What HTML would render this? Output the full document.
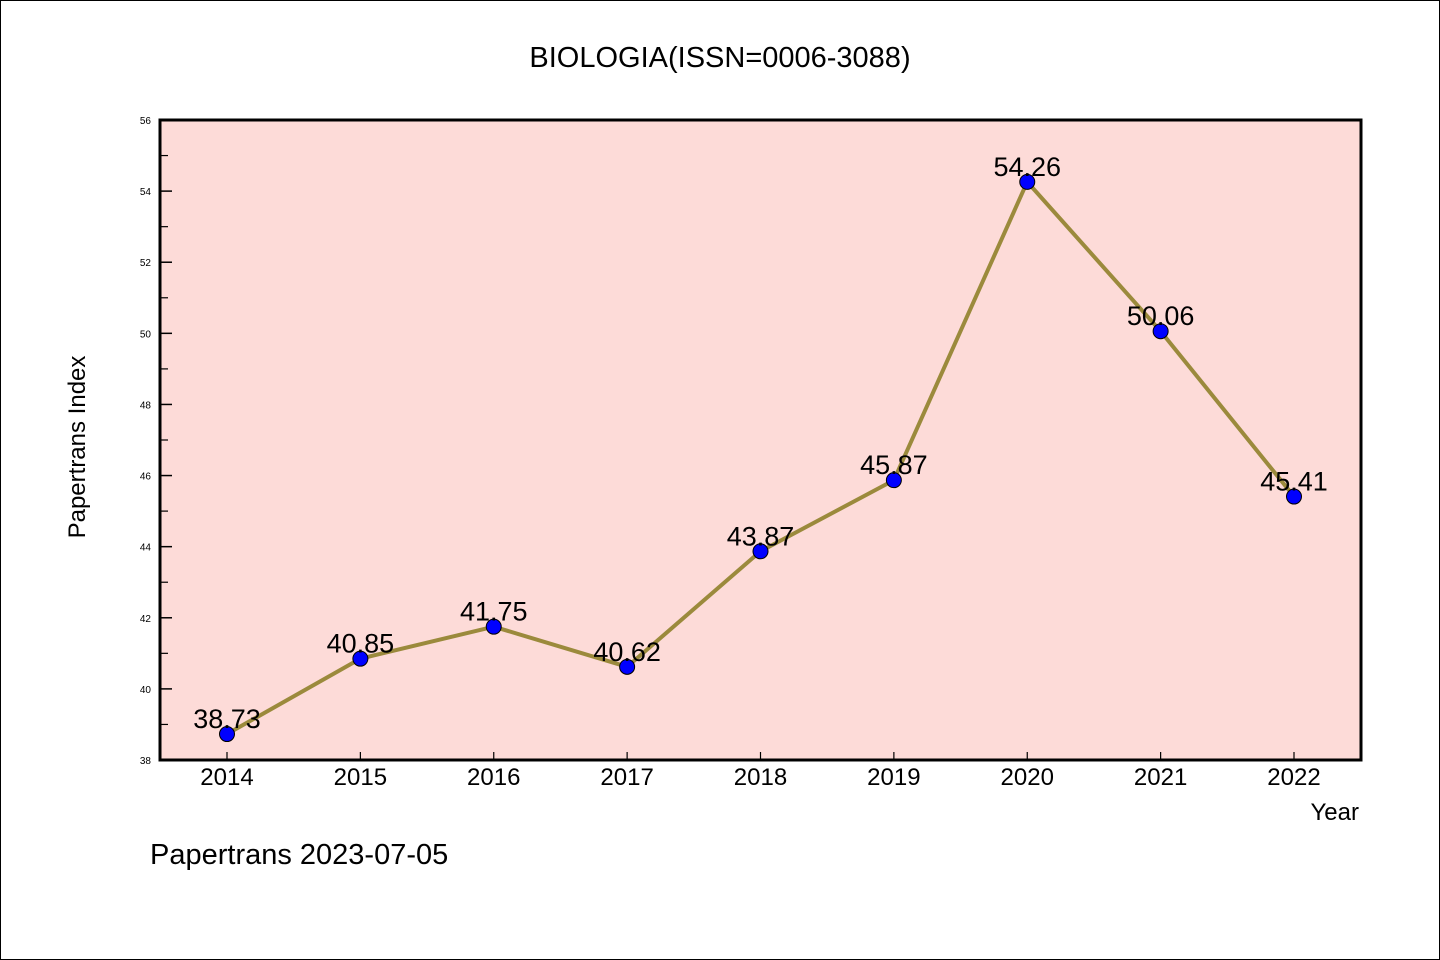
<!DOCTYPE html>
<html><head><meta charset="utf-8"><style>
body{margin:0;background:#fff}
svg{display:block;font-family:"WenQuanYi Zen Hei","Liberation Sans",sans-serif}
</style></head><body>
<svg width="1440" height="960">
<rect x="0.5" y="0.5" width="1439" height="959" fill="#fff" stroke="#000"/>
<text x="720" y="67" font-size="29" text-anchor="middle">BIOLOGIA(ISSN=0006-3088)</text>
<rect x="160" y="120" width="1201" height="640" fill="#fddbd8"/>
<g id="axes"></g>
<g id="marks"></g>
<rect x="160" y="120" width="1201" height="640" fill="none" stroke="#000" stroke-width="3"/>
<text x="85" y="447" font-size="24" text-anchor="middle" transform="rotate(-90 85 447)">Papertrans Index</text>
<text x="1359" y="820" font-size="24" text-anchor="end">Year</text>
<text x="150" y="864" font-size="29">Papertrans 2023-07-05</text>
</svg>
<script>
const years=["2014","2015","2016","2017","2018","2019","2020","2021","2022"];
const values=[38.73,40.85,41.75,40.62,43.87,45.87,54.26,50.06,45.41];
const valueLabels=["38.73","40.85","41.75","40.62","43.87","45.87","54.26","50.06","45.41"];
const yTicks=[38,40,42,44,46,48,50,52,54,56];
const NS="http://www.w3.org/2000/svg";
const x0=227,dx=133.375,yMin=38,yMax=56,yTop=120,yBot=760;
function xs(i){return x0+i*dx;}
function ys(v){return yBot-(v-yMin)/(yMax-yMin)*(yBot-yTop);}
function mk(t,a,p){const e=document.createElementNS(NS,t);for(const k in a)e.setAttribute(k,a[k]);p.appendChild(e);return e;}
const ax=document.getElementById('axes'),mg=document.getElementById('marks');
yTicks.forEach(v=>{
 const y=ys(v);
 const l=mk('line',{x1:160,x2:172,y1:y,y2:y,stroke:'#000','stroke-width':1.5},ax);
 
 
 const t=mk('text',{x:151,y:y+4,'font-size':10,'text-anchor':'end'},ax);
 t.textContent=v;
 
 
 if(v<yMax){const m=mk('line',{x1:160,x2:168,y1:ys(v+1),y2:ys(v+1),stroke:'#000','stroke-width':1.2},ax);
 
 }
});
years.forEach((yr,i)=>{
 const x=xs(i);
 const l=mk('line',{x1:x,x2:x,y1:752,y2:760,stroke:'#000','stroke-width':1.2},ax);
 
 
 const t=mk('text',{x:x,y:785,'font-size':24,'text-anchor':'middle'},ax);
 t.textContent=yr;
 
 
});
const pl=mk('polyline',{points:values.map((v,i)=>xs(i)+','+ys(v)).join(' '),fill:'none',stroke:'#9b8a3c','stroke-width':4,'stroke-linejoin':'round'},mg);


values.forEach((v,i)=>{
 const c=mk('circle',{cx:xs(i),cy:ys(v),r:7.5,fill:'#0000ff',stroke:'#000','stroke-width':1},mg);
 
 
});
values.forEach((v,i)=>{
 const t=mk('text',{x:xs(i),y:ys(v)-6,'font-size':27,'text-anchor':'middle'},mg);
 t.textContent=valueLabels[i];
 
 
});
</script>
</body></html>
